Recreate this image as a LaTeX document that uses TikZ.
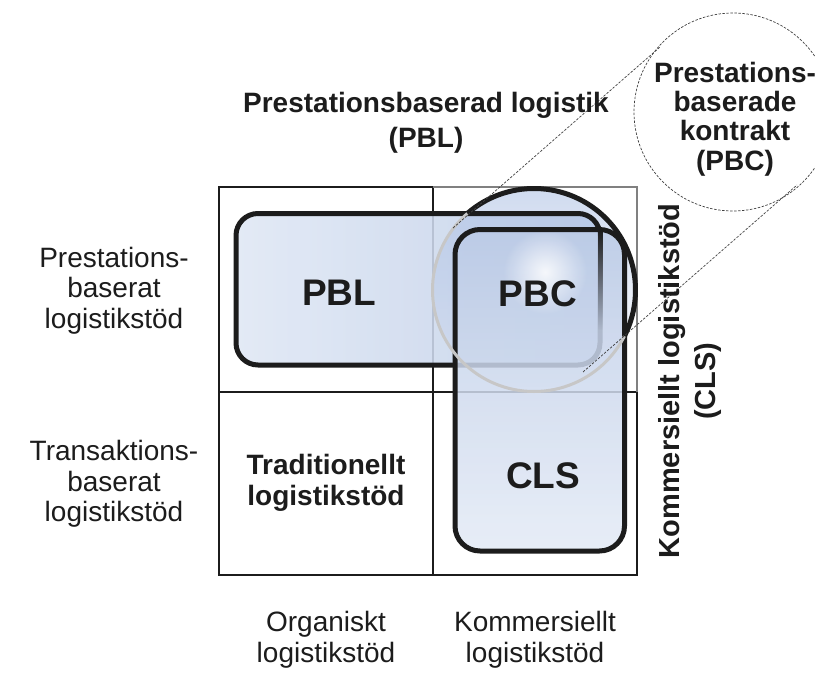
\documentclass[tikz,border=0pt]{standalone}
\usepackage{fontspec}
\setmainfont{Liberation Sans}
\usetikzlibrary{fadings}
\definecolor{pblL}{HTML}{DFE7F4}
\definecolor{pblR}{HTML}{BFCEE8}
\definecolor{clsT}{HTML}{BCCBE7}
\definecolor{clsB}{HTML}{E3EAF5}
\definecolor{glass}{HTML}{A9BDE2}
\definecolor{ink}{HTML}{1C1C1C}
\tikzfading[name=glow, inner color=transparent!0, outer color=transparent!100]
\begin{document}
\begin{tikzpicture}[x=1pt,y=-1pt,
  gridline/.style={line width=2pt, ink},
  boxline/.style={line width=5pt, ink},
  lbl/.style={align=center, text=ink, inner sep=0pt, font=\fontsize{28}{30.5}\selectfont},
  blbl/.style={align=center, text=ink, inner sep=0pt, font=\fontsize{28}{33}\selectfont\bfseries},
  big/.style={text=ink, inner sep=0pt, font=\fontsize{37}{40}\selectfont\bfseries},
  zoomline/.style={dash pattern=on 2.5pt off 1.5pt, line width=0.7pt, black!75}
]
\useasboundingbox (0,0) rectangle (815,675);

% matrix grid
\draw[gridline] (433,187) -- (219,187) -- (219,575) -- (637,575) -- (637,392);
\draw[gridline] (433,187) -- (433,575);
\draw[gridline] (219,392) -- (637,392);
\draw[line width=1.2pt, black!50] (433,187) -- (637,187) -- (637,392);

% PBL area
\shade[left color=pblL, right color=pblR, fill opacity=0.88, rounded corners=22pt]
  (236,213.5) rectangle (600,365);

% glass sphere body
\fill[glass, fill opacity=0.55, path fading=south] (534,290) circle (101.5);

% PBL outline
\draw[boxline, rounded corners=22pt] (236,213.5) rectangle (600,365);

% CLS area
\shade[top color=clsT, bottom color=clsB, fill opacity=0.85, rounded corners=25pt]
  (455,229.5) rectangle (624.5,551);
\fill[ink, path fading=south] (597.5,229.5) rectangle (602.5,330);

% sphere highlight and CLS outline
\fill[white, fill opacity=0.85, path fading=glow] (545,272) circle (42);
\draw[boxline, rounded corners=25pt] (455,229.5) rectangle (624.5,551);

% sphere rim
\draw[line width=3pt, black!22] (534,290) circle (101.5);
\draw[boxline] (534,290) ++(229:101.5) arc[start angle=229, end angle=387, radius=101.5];

% magnifier
\coordinate (zc) at (733,112);
\coordinate (ua) at (453,228);
\coordinate (ub) at (660,47);
\coordinate (la) at (583,372);
\coordinate (lb) at (797,185);
\draw[zoomline] (zc) circle (99);
\draw[zoomline] (ua) -- (ub);
\draw[zoomline] (la) -- (lb);

% labels
\node[blbl] (title) at (426,123) {Prestationsbaserad logistik\\[2pt](PBL)};
\node[blbl, font=\fontsize{28}{29.3}\selectfont\bfseries] (pbctext) at (735,119)
  {Prestations-\\baserade\\kontrakt\\(PBC)};
\node[blbl, rotate=90, font=\fontsize{29}{36}\selectfont\bfseries] (clsside) at (690,381)
  {Kommersiellt logistikstöd\\(CLS)};

\node[lbl] (rowa) at (114,290.5) {Prestations-\\baserat\\logistikstöd};
\node[lbl] (rowb) at (114,484) {Transaktions-\\baserat\\logistikstöd};
\node[lbl] (cola) at (326,640) {Organiskt\\logistikstöd};
\node[lbl] (colb) at (535,640) {Kommersiellt\\logistikstöd};

\node[blbl, font=\fontsize{28}{31}\selectfont\bfseries] (trad) at (326,483)
  {Traditionellt\\logistikstöd};
\node[big] (pbl) at (339,293) {PBL};
\node[big] (pbc) at (538,293.5) {PBC};
\node[big] (cls) at (543,476) {CLS};
\end{tikzpicture}
\end{document}
